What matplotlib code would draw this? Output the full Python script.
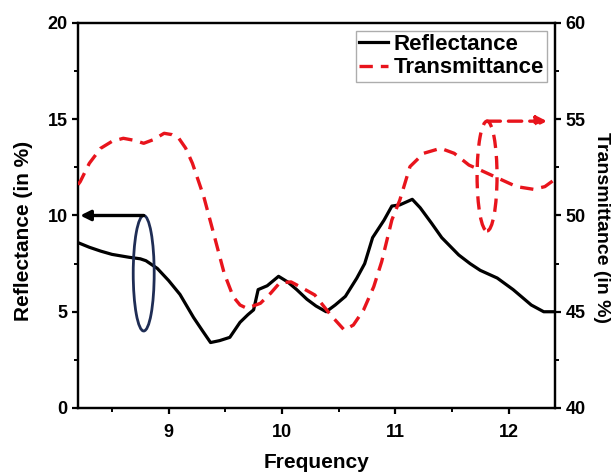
import matplotlib
matplotlib.use("Agg")
import matplotlib.pyplot as plt
from matplotlib.patches import Ellipse

plt.rcParams['font.family'] = ['Liberation Sans', 'DejaVu Sans']
plt.rcParams['font.weight'] = 'bold'

# Reflectance curve (left axis, %)
refl_freq = [8.20, 8.30, 8.40, 8.50, 8.65, 8.75, 8.80, 8.90, 9.00, 9.10, 9.22, 9.30,
             9.37, 9.45, 9.54, 9.63, 9.70, 9.75, 9.79, 9.87, 9.97, 10.05, 10.13, 10.22,
             10.30, 10.39, 10.47, 10.56, 10.66, 10.73, 10.80, 10.90, 10.97, 11.04, 11.15,
             11.22, 11.32, 11.41, 11.56, 11.66, 11.75, 11.90, 12.04, 12.20, 12.31, 12.40]
refl_vals = [8.59, 8.35, 8.15, 7.98, 7.83, 7.75, 7.65, 7.25, 6.62, 5.90, 4.70, 4.00,
             3.40, 3.50, 3.67, 4.45, 4.85, 5.10, 6.15, 6.35, 6.84, 6.55, 6.15, 5.65,
             5.30, 5.00, 5.35, 5.80, 6.74, 7.50, 8.85, 9.75, 10.49, 10.55, 10.84,
             10.40, 9.60, 8.85, 7.95, 7.50, 7.15, 6.75, 6.15, 5.35, 5.00, 5.00]

# Transmittance curve (right axis, %)
trans_freq = [8.20, 8.22, 8.30, 8.40, 8.50, 8.60, 8.70, 8.78, 8.87, 8.96, 9.03, 9.09,
              9.15, 9.21, 9.31, 9.40, 9.49, 9.57, 9.63, 9.69, 9.81, 9.90, 9.98, 10.08,
              10.16, 10.29, 10.43, 10.55, 10.63, 10.72, 10.81, 10.88, 10.97, 11.04, 11.13,
              11.25, 11.40, 11.52, 11.65, 11.75, 11.91, 12.07, 12.22, 12.32, 12.40]
trans_vals = [51.6, 51.76, 52.71, 53.49, 53.85, 54.01, 53.9, 53.75, 53.95, 54.27, 54.2, 54.01,
              53.5, 52.71, 50.98, 49.0, 47.0, 45.78, 45.35, 45.18, 45.44, 45.96, 46.5, 46.55,
              46.3, 45.87, 44.83, 44.05, 44.31, 45.09, 46.3, 47.6, 49.77, 50.8, 52.54,
              53.23, 53.49, 53.23, 52.62, 52.36, 51.93, 51.5, 51.36, 51.5, 51.84]

x_ticks = [9, 10, 11, 12]
left_ticks = [0, 5, 10, 15, 20]
right_ticks = [40, 45, 50, 55, 60]

# Axis markers: ellipse around a curve with an arrow to its axis
refl_marker = dict(center=(8.78, 7.0), width=0.185, height=6.0)
refl_arrow = dict(start=(8.78, 10.0), end=(8.22, 10.0))
trans_marker = dict(center=(11.81, 52.05), width=0.176, height=5.7)
trans_arrow = dict(start=(11.81, 54.9), end=(12.34, 54.9))

fig = plt.figure(figsize=(6.14, 4.72), dpi=100)
ax = fig.add_axes([0.127, 0.1356, 0.777, 0.8157])
ax2 = ax.twinx()

red = '#e8141c'
navy = '#1f2d55'

l1, = ax.plot(refl_freq, refl_vals, color='black', lw=2.3, label='Reflectance', zorder=3)
l2, = ax2.plot(trans_freq, trans_vals, color=red, lw=2.4, dashes=(4, 2.4),
               label='Transmittance', zorder=3)

ax.set_xlim(8.2, 12.41)
ax.set_ylim(0, 20)
ax2.set_ylim(40, 60)

ax.set_xticks(x_ticks)
ax.set_xticks([8.5, 9.5, 10.5, 11.5], minor=True)
ax.set_yticks(left_ticks)
ax.set_yticks([2.5, 7.5, 12.5, 17.5], minor=True)
ax2.set_yticks(right_ticks)
ax2.set_yticks([42.5, 47.5, 52.5, 57.5], minor=True)

for a in (ax, ax2):
    for s in a.spines.values():
        s.set_linewidth(1.6)
ax.tick_params(axis='both', which='major', direction='out', length=4.5, width=1.6,
               labelsize=13)
ax.tick_params(axis='both', which='minor', direction='out', length=3, width=1.4)
ax.tick_params(axis='x', which='major', pad=7)
ax.tick_params(axis='y', which='major', pad=3)
ax2.tick_params(axis='y', which='major', direction='out', length=4.5, width=1.6,
                labelsize=13, pad=3)
ax2.tick_params(axis='y', which='minor', direction='out', length=3, width=1.4)
for lab in ax.get_xticklabels() + ax.get_yticklabels() + ax2.get_yticklabels():
    lab.set_fontweight('bold')

ax.set_xlabel('Frequency', fontsize=15, fontweight='bold')
ax.xaxis.set_label_coords(0.5, -0.117)
ax.set_ylabel('Reflectance (in %)', fontsize=15, fontweight='bold')
ax.yaxis.set_label_coords(-0.094, 0.46)
ax2.set_ylabel('Transmittance (in %)', fontsize=14, fontweight='bold',
               rotation=270, va='bottom')
ax2.yaxis.set_label_coords(1.080, 0.47)

# Markers
ax.add_patch(Ellipse(refl_marker['center'], refl_marker['width'], refl_marker['height'],
                     fill=False, edgecolor=navy, lw=2.0, zorder=4))
ax.annotate('', xy=refl_arrow['end'], xytext=refl_arrow['start'],
            arrowprops=dict(arrowstyle='-|>,head_length=0.6,head_width=0.3',
                            color='black', lw=2.4, shrinkA=0, shrinkB=0), zorder=4)
ax2.add_patch(Ellipse(trans_marker['center'], trans_marker['width'], trans_marker['height'],
                      fill=False, edgecolor=red, lw=2.4, linestyle=(0, (4, 2.4)), zorder=4))
ax2.annotate('', xy=trans_arrow['end'], xytext=trans_arrow['start'],
             arrowprops=dict(arrowstyle='-|>,head_length=0.6,head_width=0.3',
                             color=red, lw=2.4, linestyle=(0, (4, 2.4)),
                             shrinkA=0, shrinkB=0), zorder=4)

leg = ax2.legend([l1, l2], ['Reflectance', 'Transmittance'], loc='upper right',
                 prop=dict(size=16, weight='bold'), frameon=True, fancybox=False,
                 edgecolor='#999999', borderpad=0.15, labelspacing=0.1,
                 handlelength=1.3, handletextpad=0.25, borderaxespad=0.35)
leg.get_frame().set_linewidth(1.0)

fig.savefig('out.png', dpi=100)
